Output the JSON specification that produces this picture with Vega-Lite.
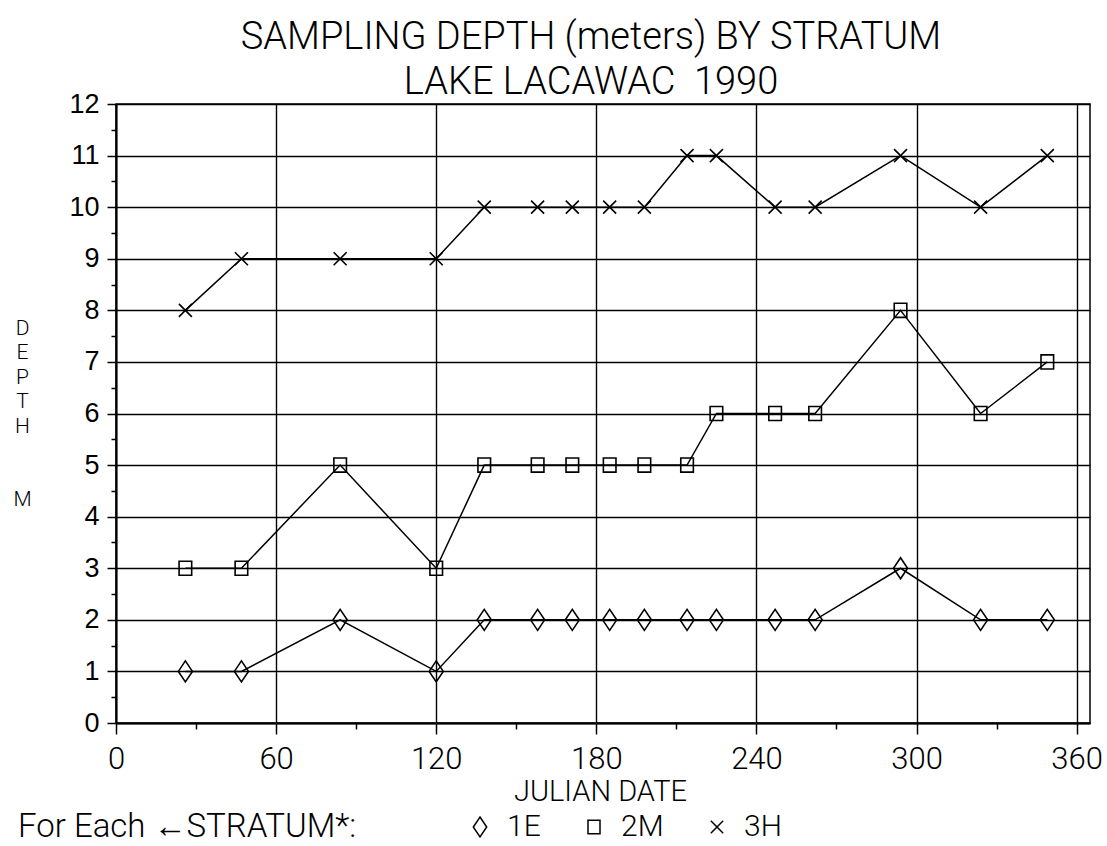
{
  "$schema": "https://vega.github.io/schema/vega-lite/v6.json",
  "width": 974,
  "height": 619,
  "autosize": "none",
  "padding": {"left": 116, "top": 104, "right": 17, "bottom": 123},
  "background": "white",
  "config": {
    "view": {"stroke": "black", "strokeWidth": 1.5},
    "font": "Roboto"
  },
  "title": {
    "text": ["SAMPLING DEPTH (meters) BY STRATUM", "LAKE LACAWAC \u00a01990"],
    "font": "Roboto",
    "fontWeight": 300,
    "fontSize": 38,
    "lineHeight": 45,
    "color": "black",
    "anchor": "middle",
    "dx": -12,
    "offset": -12
  },
  "data": {
    "values": [
      {"day": 26, "depth": 1, "stratum": "1E"},
      {"day": 47, "depth": 1, "stratum": "1E"},
      {"day": 84, "depth": 2, "stratum": "1E"},
      {"day": 120, "depth": 1, "stratum": "1E"},
      {"day": 138, "depth": 2, "stratum": "1E"},
      {"day": 158, "depth": 2, "stratum": "1E"},
      {"day": 171, "depth": 2, "stratum": "1E"},
      {"day": 185, "depth": 2, "stratum": "1E"},
      {"day": 198, "depth": 2, "stratum": "1E"},
      {"day": 214, "depth": 2, "stratum": "1E"},
      {"day": 225, "depth": 2, "stratum": "1E"},
      {"day": 247, "depth": 2, "stratum": "1E"},
      {"day": 262, "depth": 2, "stratum": "1E"},
      {"day": 294, "depth": 3, "stratum": "1E"},
      {"day": 324, "depth": 2, "stratum": "1E"},
      {"day": 349, "depth": 2, "stratum": "1E"},
      {"day": 26, "depth": 3, "stratum": "2M"},
      {"day": 47, "depth": 3, "stratum": "2M"},
      {"day": 84, "depth": 5, "stratum": "2M"},
      {"day": 120, "depth": 3, "stratum": "2M"},
      {"day": 138, "depth": 5, "stratum": "2M"},
      {"day": 158, "depth": 5, "stratum": "2M"},
      {"day": 171, "depth": 5, "stratum": "2M"},
      {"day": 185, "depth": 5, "stratum": "2M"},
      {"day": 198, "depth": 5, "stratum": "2M"},
      {"day": 214, "depth": 5, "stratum": "2M"},
      {"day": 225, "depth": 6, "stratum": "2M"},
      {"day": 247, "depth": 6, "stratum": "2M"},
      {"day": 262, "depth": 6, "stratum": "2M"},
      {"day": 294, "depth": 8, "stratum": "2M"},
      {"day": 324, "depth": 6, "stratum": "2M"},
      {"day": 349, "depth": 7, "stratum": "2M"},
      {"day": 26, "depth": 8, "stratum": "3H"},
      {"day": 47, "depth": 9, "stratum": "3H"},
      {"day": 84, "depth": 9, "stratum": "3H"},
      {"day": 120, "depth": 9, "stratum": "3H"},
      {"day": 138, "depth": 10, "stratum": "3H"},
      {"day": 158, "depth": 10, "stratum": "3H"},
      {"day": 171, "depth": 10, "stratum": "3H"},
      {"day": 185, "depth": 10, "stratum": "3H"},
      {"day": 198, "depth": 10, "stratum": "3H"},
      {"day": 214, "depth": 11, "stratum": "3H"},
      {"day": 225, "depth": 11, "stratum": "3H"},
      {"day": 247, "depth": 10, "stratum": "3H"},
      {"day": 262, "depth": 10, "stratum": "3H"},
      {"day": 294, "depth": 11, "stratum": "3H"},
      {"day": 324, "depth": 10, "stratum": "3H"},
      {"day": 349, "depth": 11, "stratum": "3H"}
    ]
  },
  "encoding": {
    "x": {
      "field": "day",
      "type": "quantitative",
      "scale": {"domain": [0, 365], "nice": false, "zero": false},
      "axis": {
        "values": [0, 30, 60, 90, 120, 150, 180, 210, 240, 270, 300, 330, 360],
        "labelExpr": "datum.value % 60 == 0 ? datum.label : ''",
        "labelOverlap": false,
        "labelFlush": false,
        "grid": true,
        "gridColor": "black",
        "gridWidth": 1.4,
        "gridOpacity": {"condition": {"test": "datum.value % 60 == 0", "value": 1}, "value": 0},
        "tickColor": "black",
        "tickWidth": 1.5,
        "tickSize": {"condition": {"test": "datum.value % 60 == 0", "value": 11}, "value": 6},
        "domainColor": "black",
        "domainWidth": 2,
        "labelFont": "Roboto",
        "labelFontWeight": 300,
        "labelFontSize": 31,
        "labelColor": "black",
        "labelPadding": 10,
        "title": "JULIAN DATE",
        "titleFont": "Roboto",
        "titleFontWeight": 300,
        "titleFontSize": 29,
        "titleColor": "black",
        "titleX": 484,
        "titlePadding": 3
      }
    },
    "y": {
      "field": "depth",
      "type": "quantitative",
      "scale": {"domain": [0, 12], "nice": false},
      "axis": {
        "values": [0, 0.5, 1, 1.5, 2, 2.5, 3, 3.5, 4, 4.5, 5, 5.5, 6, 6.5, 7, 7.5, 8, 8.5, 9, 9.5, 10, 10.5, 11, 11.5, 12],
        "labelExpr": "datum.value % 1 == 0 ? format(datum.value, 'd') : ''",
        "labelOverlap": false,
        "labelFlush": false,
        "grid": true,
        "gridColor": "black",
        "gridWidth": 1.4,
        "gridOpacity": {"condition": {"test": "datum.value % 1 == 0", "value": 1}, "value": 0},
        "tickColor": "black",
        "tickWidth": 1.5,
        "tickSize": {"condition": {"test": "datum.value % 1 == 0", "value": 9}, "value": 5},
        "domainColor": "black",
        "domainWidth": 2,
        "labelFont": "Liberation Sans",
        "labelFontSize": 27,
        "labelColor": "black",
        "labelPadding": 8,
        "title": ["D", "E", "P", "T", "H", "\u2800", "\u2800", "M"],
        "titleFont": "Roboto",
        "titleFontWeight": 300,
        "titleFontSize": 21,
        "titleLineHeight": 24.5,
        "titleColor": "black",
        "titleAngle": 0,
        "titleAlign": "center",
        "titleBaseline": "top",
        "titleX": -94,
        "titleY": 213
      }
    }
  },
  "layer": [
    {
      "mark": {"type": "line", "color": "black", "strokeWidth": 1.5},
      "encoding": {"detail": {"field": "stratum", "type": "nominal"}}
    },
    {
      "mark": {"type": "point", "filled": false, "stroke": "black", "strokeWidth": 1.6, "size": 441, "opacity": 1},
      "encoding": {
        "shape": {
          "field": "stratum",
          "type": "nominal",
          "scale": {
            "domain": ["1E", "2M", "3H"],
            "range": [
              "M0,-1L0.67,0L0,1L-0.67,0Z",
              "M-0.6,-0.67H0.6V0.67H-0.6Z",
              "M-0.62,-0.62L0.62,0.62M0.62,-0.62L-0.62,0.62"
            ]
          },
          "legend": {
            "title": "For Each ←STRATUM*:",
            "orient": "none",
            "legendX": -98,
            "legendY": 708,
            "direction": "horizontal",
            "titleOrient": "left",
            "titleFont": "Roboto",
            "titleFontWeight": 300,
            "titleFontSize": 33,
            "titleColor": "black",
            "titleLimit": 700,
            "titlePadding": 108,
            "labelFont": "Roboto",
            "labelFontWeight": 300,
            "labelFontSize": 30,
            "labelColor": "black",
            "labelOffset": 12,
            "columnPadding": 38,
            "symbolSize": 400,
            "symbolStrokeColor": "black",
            "symbolStrokeWidth": 1.5,
            "symbolFillColor": "transparent"
          }
        }
      }
    }
  ]
}
